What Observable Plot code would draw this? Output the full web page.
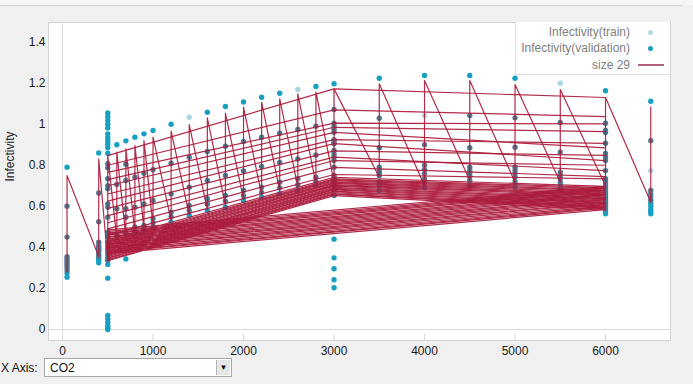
<!DOCTYPE html>
<html>
<head>
<meta charset="utf-8">
<script src="https://cdn.jsdelivr.net/npm/d3@7"></script>
<script src="https://cdn.jsdelivr.net/npm/@observablehq/plot@0.6"></script>
<style>
  html, body { margin: 0; padding: 0; }
  body { width: 693px; height: 384px; overflow: hidden; position: relative; background: #f0f0f0;
         font-family: "Liberation Sans", Arial, sans-serif; font-size: 12px; }
  #topstrip { position: absolute; left: 0; top: 0; width: 693px; height: 5px; background: #f6f6f6; }
  #topline { position: absolute; left: 0; top: 5px; width: 682px; height: 1px; background: #d6d6d6; }
  #chart { position: absolute; left: 0; top: 0; }
  #legend { position: absolute; left: 515px; top: 22px; width: 155px; height: 53px; background: #fff;
            border-left: 1px solid #dedede; border-bottom: 1px solid #dedede; box-sizing: border-box; }
  .lrow { position: absolute; right: 40px; color: #808080; font-size: 12px; line-height: 14px; white-space: nowrap; }
  .lsym { position: absolute; }
  #xlab { position: absolute; left: 1px; top: 361px; font-size: 12px; color: #111; }
  #sel { position: absolute; left: 44px; top: 358px; width: 188px; height: 19px; background: #fff;
         border: 1px solid #a8a8a8; box-sizing: border-box; }
  #seltext { position: absolute; left: 5px; top: 2px; font-size: 12px; color: #111; }
  #selbtn { position: absolute; right: 1px; top: 1px; width: 14px; height: 15px; background: #e6e6e6;
            border-left: 1px solid #b5b5b5; box-sizing: border-box; font-size: 8px; text-align: center; line-height: 15px; color: #111; }
</style>
</head>
<body>
<div id="topstrip"></div>
<div id="topline"></div>
<div id="chart"></div>
<div id="legend">
  <div class="lrow" style="top:3px">Infectivity(train)</div>
  <div class="lsym" style="left:132px;top:8px;width:5px;height:5px;border-radius:50%;background:#b3dbe4"></div>
  <div class="lrow" style="top:19px">Infectivity(validation)</div>
  <div class="lsym" style="left:132px;top:24px;width:5px;height:5px;border-radius:50%;background:#179fbe"></div>
  <div class="lrow" style="top:36px">size 29</div>
  <div class="lsym" style="left:122px;top:42px;width:26px;height:2px;background:#b5627c"></div>
</div>
<div id="xlab">X Axis:</div>
<div id="sel"><div id="seltext">CO2</div><div id="selbtn">&#9660;</div></div>
<script>
// ---- Data ----
const xTicks = [0, 1000, 2000, 3000, 4000, 5000, 6000];
const yTicks = [0, 0.2, 0.4, 0.6, 0.8, 1, 1.2, 1.4];

const co2Levels = [50, 400, 500, 600, 700, 800, 900, 1000, 1200, 1400, 1600, 1800, 2000,
                   2200, 2400, 2600, 2800, 3000, 3500, 4000, 4500, 5000, 5500, 6000, 6500];

// validation observations, one list per CO2 level
const validation = [
  [0.79, 0.60, 0.45, 0.355, 0.345, 0.335, 0.325, 0.315, 0.305, 0.29, 0.275, 0.255],
  [0.86, 0.665, 0.525, 0.425, 0.41, 0.40, 0.39, 0.38, 0.365, 0.355, 0.345, 0.335, 0.325],
  [1.055, 1.036, 1.018, 1.0, 0.982, 0.953, 0.935, 0.92, 0.904, 0.885, 0.859, 0.807, 0.788, 0.734, 0.701,
   0.685, 0.612, 0.596, 0.547, 0.474, 0.46, 0.45, 0.425, 0.41, 0.395, 0.38, 0.365, 0.35, 0.336, 0.317,
   0.25, 0.068, 0.052, 0.035, 0.019, 0.008, 0.0],
  [0.90, 0.706, 0.588, 0.463, 0.452],
  [0.919, 0.805, 0.726, 0.588, 0.547, 0.474, 0.46, 0.344],
  [0.937, 0.742, 0.596, 0.50, 0.485, 0.47],
  [0.953, 0.761, 0.612, 0.507, 0.495, 0.482],
  [0.969, 0.778, 0.628, 0.54, 0.52, 0.498],
  [1.0, 0.81, 0.66, 0.571, 0.548, 0.523],
  [0.839, 0.693, 0.604, 0.58, 0.555],
  [1.058, 0.867, 0.726, 0.637, 0.61, 0.58],
  [1.086, 0.893, 0.75, 0.653, 0.625, 0.596],
  [1.108, 0.916, 0.772, 0.677, 0.652, 0.628],
  [1.131, 0.937, 0.794, 0.693, 0.668, 0.644],
  [1.151, 0.956, 0.814, 0.717, 0.69, 0.661],
  [0.974, 0.831, 0.734, 0.705, 0.677],
  [1.184, 0.99, 0.85, 0.742, 0.72, 0.701],
  [1.197, 1.072, 1.005, 0.99, 0.975, 0.961, 0.925, 0.915, 0.905, 0.872, 0.855, 0.84, 0.823, 0.79,
   0.75, 0.74, 0.73, 0.72, 0.70, 0.68, 0.653, 0.44, 0.349, 0.296, 0.242, 0.203],
  [1.224, 1.029, 0.885, 0.79, 0.775, 0.76, 0.75, 0.72, 0.70, 0.677],
  [1.237, 0.9, 0.8, 0.78, 0.76, 0.735, 0.715, 0.69],
  [1.237, 1.042, 0.885, 0.79, 0.775, 0.76, 0.745, 0.726, 0.70],
  [1.224, 1.031, 0.888, 0.79, 0.775, 0.76, 0.742, 0.72, 0.693],
  [1.008, 0.864, 0.766, 0.75, 0.735, 0.717, 0.70, 0.685],
  [1.163, 1.005, 0.97, 0.96, 0.907, 0.857, 0.84, 0.823, 0.774, 0.734, 0.72, 0.705, 0.69, 0.675,
   0.66, 0.645, 0.63, 0.615, 0.6, 0.585, 0.575, 0.564],
  [1.112, 0.92, 0.677, 0.66, 0.645, 0.63, 0.615, 0.6, 0.585, 0.575, 0.564]
];

// training observations [CO2, infectivity]
const trainX = [1400, 2600, 4000, 5500, 6500];
const trainY = [1.034, 1.169, 1.042, 1.2, 0.774];

// "size 29" model: single-factor sweep (low and high prediction per CO2 level)
const sweepLow  = [0.28, 0.355, 0.336, 0.44, 0.455, 0.47, 0.49, 0.505, 0.53, 0.56, 0.585, 0.605, 0.635,
                   0.655, 0.675, 0.695, 0.71, 0.72, 0.742, 0.70, 0.726, 0.717, 0.717, 0.70, 0.62];
const sweepHigh = [0.75, 0.83, 0.847, 0.864, 0.88, 0.896, 0.92, 0.937, 0.966, 0.998, 1.031, 1.054, 1.083,
                   1.107, 1.124, 1.148, 1.156, 1.172, 1.197, 1.213, 1.213, 1.193, 1.169, 1.13, 1.083];

// "size 29" model: factorial runs at CO2 = 500, 3000, 6000
const factorialLevels = [500, 3000, 6000];
const lowA = [0.335, 0.339, 0.345, 0.349, 0.355, 0.361, 0.365, 0.371, 0.376, 0.380, 0.386, 0.392, 0.396, 0.402, 0.408, 0.412, 0.418, 0.425, 0.430, 0.437];
const lowB = [0.652, 0.658, 0.661, 0.666, 0.671, 0.674, 0.680, 0.684, 0.688, 0.692, 0.698, 0.702, 0.706, 0.712, 0.715, 0.719, 0.725, 0.729, 0.734, 0.741];
const lowC = [0.584, 0.591, 0.596, 0.601, 0.608, 0.615, 0.619, 0.626, 0.633, 0.638, 0.643, 0.651, 0.656, 0.661, 0.668, 0.675, 0.679, 0.686, 0.691, 0.697];
const lowD = [0.370, 0.377, 0.381, 0.388, 0.395, 0.399, 0.406, 0.413, 0.417, 0.424, 0.431, 0.435, 0.442, 0.449, 0.453, 0.460, 0.467, 0.471, 0.478, 0.485];
const upA = [0.847, 0.80, 0.765, 0.73, 0.70, 0.66, 0.625, 0.59, 0.555, 0.52, 0.49, 0.46];
const upB = [1.172, 1.07, 1.005, 0.985, 0.96, 0.925, 0.905, 0.87, 0.84, 0.823, 0.79, 0.755];
const upC = [1.13, 1.037, 1.002, 0.964, 0.885, 0.907, 0.823, 0.848, 0.774, 0.80, 0.745, 0.734];

// ---- Build tables ----
const valData = co2Levels.flatMap((x, i) => validation[i].map(y => ({x, y})));
const trainData = trainX.map((x, i) => ({x, y: trainY[i]}));

const lineData = [];
co2Levels.forEach((x, i) => {
  lineData.push({s: "sweep", x, y: sweepLow[i]}, {s: "sweep", x, y: sweepHigh[i]});
});
const [f1, f2, f3] = factorialLevels;
lowA.forEach((a, i) => {
  const s = "low" + i;
  lineData.push({s, x: f1, y: a}, {s, x: f2, y: lowB[i]}, {s, x: f3, y: lowC[i]}, {s, x: f1, y: lowD[i]});
});
upA.forEach((a, i) => {
  const s = "up" + i;
  lineData.push({s, x: f1, y: a}, {s, x: f2, y: upB[i]}, {s, x: f3, y: upC[i]});
});

// extent of model lines at each CO2 level (points there look darker under the lines)
const extent = d3.rollup(lineData, v => d3.extent(v, d => d.y), d => d.x);
const covered = d => { const e = extent.get(d.x); return e && d.y >= e[0] - 0.004 && d.y <= e[1] + 0.004; };

const chart = Plot.plot({
  width: 693,
  height: 358,
  marginLeft: 48,
  marginRight: 23,
  marginTop: 22,
  marginBottom: 18,
  style: {background: "transparent", fontFamily: "'Liberation Sans', Arial, sans-serif", fontSize: "12px", color: "#1a1a1a", overflow: "visible"},
  x: {domain: [-155, 6718]},
  y: {domain: [-0.0536, 1.4954]},
  marks: [
    Plot.frame({fill: "#fff", stroke: null}),
    Plot.ruleY([0], {stroke: "#dcdcdc"}),
    Plot.ruleX([0], {stroke: "#dcdcdc"}),
    Plot.tickX(xTicks, {x: d => d, stroke: "#d6d6d6", insetTop: 312}),
    Plot.axisX({ticks: xTicks, tickFormat: d3.format("d"), tickSize: 0, tickPadding: 6, label: null}),
    Plot.axisY({ticks: yTicks, tickFormat: d3.format("~g"), tickSize: 0, tickPadding: 3, label: null}),
    Plot.text(["Infectivity"], {frameAnchor: "left", rotate: -90, dx: -38, fill: "#1a1a1a", fontSize: 12}),
    Plot.dot(valData.filter(d => !covered(d)), {x: "x", y: "y", r: 2.7, fill: "#17a0bf", stroke: null}),
    Plot.dot(valData.filter(covered), {x: "x", y: "y", r: 2.7, fill: "#4a7d93", stroke: null}),
    Plot.dot(trainData, {x: "x", y: "y", r: 2.7, fill: "#a9d6e1", stroke: null}),
    Plot.line(lineData, {x: "x", y: "y", z: "s", stroke: "#ab1b3c", strokeWidth: 1.2, strokeOpacity: 0.93}),
    Plot.frame({stroke: "#d4d4d4"})
  ]
});
document.getElementById("chart").appendChild(chart);
</script>
</body>
</html>
